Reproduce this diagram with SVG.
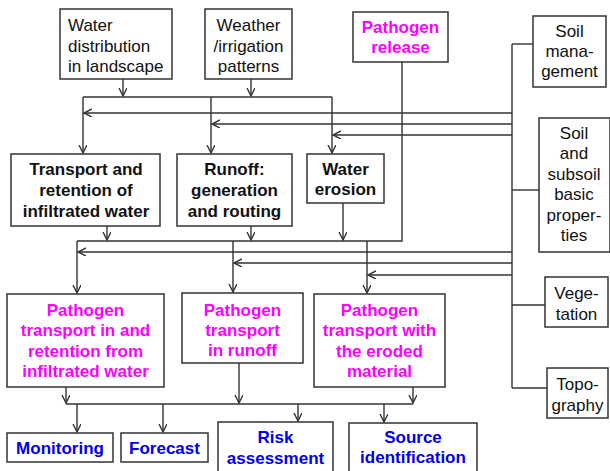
<svg xmlns="http://www.w3.org/2000/svg" width="610" height="471" viewBox="0 0 610 471">
<style>
rect{fill:#fff;stroke:#333;stroke-width:1.5}
text{font-family:"Liberation Sans",Arial,sans-serif;font-size:17px;text-anchor:middle;fill:#111}
.b{font-weight:bold}
.m{fill:#ff00ff;font-weight:bold}
.u{fill:#0000ee;font-weight:bold}
.l{text-anchor:start}
#connectors path{fill:none;stroke:#333;stroke-width:1.4}
#connectors .a{marker-end:url(#arr)}
</style>
<defs>
<marker id="arr" markerUnits="userSpaceOnUse" markerWidth="10" markerHeight="10" refX="8" refY="4" orient="auto" viewBox="0 0 10 10">
<path d="M0,0 L8,4 L0,8" fill="none" stroke="#333" stroke-width="1.4"/>
</marker>
</defs>
<g id="connectors">
<path class="a" d="M123,79 V96"/>
<path class="a" d="M251,79 V96"/>
<path d="M83,97 H332"/>
<path class="a" d="M83,97 V153"/>
<path class="a" d="M211,97 V153"/>
<path class="a" d="M332,97 V153"/>
<path class="a" d="M512,113 H84"/>
<path class="a" d="M512,124 H212"/>
<path class="a" d="M512,135 H333"/>
<path d="M512,44 V388"/>
<path d="M512,44 H533"/>
<path d="M512,190 H539"/>
<path d="M512,305 H545"/>
<path d="M512,388 H547"/>
<path d="M402,62 V241 H77"/>
<path class="a" d="M107,226 V240"/>
<path class="a" d="M251,226 V240"/>
<path class="a" d="M343,203 V240"/>
<path class="a" d="M77,241 V293"/>
<path class="a" d="M233,241 V292"/>
<path class="a" d="M367,241 V293"/>
<path class="a" d="M512,252 H78"/>
<path class="a" d="M512,263 H234"/>
<path class="a" d="M512,275 H368"/>
<path class="a" d="M66,387 V403"/>
<path class="a" d="M239,363 V403"/>
<path class="a" d="M413,387 V403"/>
<path d="M66,404 H413"/>
<path class="a" d="M77,404 V432"/>
<path class="a" d="M163,404 V432"/>
<path class="a" d="M298,404 V421"/>
<path class="a" d="M384,404 V422"/>
</g>
<g id="water-distribution">
<rect x="60" y="9" width="112" height="70"/>
<text class="l" x="68" y="31">Water</text>
<text class="l" x="68" y="52">distribution</text>
<text class="l" x="68" y="72">in landscape</text>
</g>
<g id="weather">
<rect x="205" y="9" width="87" height="70"/>
<text x="248.5" y="31">Weather</text>
<text x="248.5" y="52">/irrigation</text>
<text x="248.5" y="72">patterns</text>
</g>
<g id="pathogen-release">
<rect x="353" y="12" width="95" height="50"/>
<text class="m" x="400.5" y="33">Pathogen</text>
<text class="m" x="400.5" y="53">release</text>
</g>
<g id="soil-management">
<rect x="533" y="16" width="73" height="71"/>
<text x="569.5" y="37">Soil</text>
<text x="569.5" y="57">mana-</text>
<text x="569.5" y="77">gement</text>
</g>
<g id="soil-subsoil">
<rect x="539" y="118" width="71" height="134"/>
<text x="574" y="139">Soil</text>
<text x="574" y="159">and</text>
<text x="574" y="180">subsoil</text>
<text x="574" y="200">basic</text>
<text x="574" y="221">proper-</text>
<text x="574" y="241">ties</text>
</g>
<g id="vegetation">
<rect x="545" y="277" width="63" height="50"/>
<text x="576.5" y="299">Vege-</text>
<text x="576.5" y="320">tation</text>
</g>
<g id="topography">
<rect x="547" y="368" width="61" height="50"/>
<text x="577.5" y="390">Topo-</text>
<text x="577.5" y="411">graphy</text>
</g>
<g id="transport-retention">
<rect x="11" y="154" width="149" height="72"/>
<text class="b" x="86" y="175">Transport and</text>
<text class="b" x="86" y="196">retention of</text>
<text class="b" x="86" y="217">infiltrated water</text>
</g>
<g id="runoff">
<rect x="177" y="154" width="115" height="72"/>
<text class="b" x="234.5" y="175">Runoff:</text>
<text class="b" x="234.5" y="196">generation</text>
<text class="b" x="234.5" y="217">and routing</text>
</g>
<g id="water-erosion">
<rect x="307" y="154" width="77" height="49"/>
<text class="b" x="345.5" y="175">Water</text>
<text class="b" x="345.5" y="195">erosion</text>
</g>
<g id="pathogen-infiltrated">
<rect x="7" y="294" width="157" height="93"/>
<text class="m" x="85.5" y="316">Pathogen</text>
<text class="m" x="85.5" y="336">transport in and</text>
<text class="m" x="85.5" y="357">retention from</text>
<text class="m" x="85.5" y="377">infiltrated water</text>
</g>
<g id="pathogen-runoff">
<rect x="182" y="293" width="121" height="70"/>
<text class="m" x="242.5" y="316">Pathogen</text>
<text class="m" x="242.5" y="336">transport</text>
<text class="m" x="242.5" y="356">in runoff</text>
</g>
<g id="pathogen-eroded">
<rect x="314" y="294" width="131" height="93"/>
<text class="m" x="379.5" y="316">Pathogen</text>
<text class="m" x="379.5" y="336">transport with</text>
<text class="m" x="379.5" y="357">the eroded</text>
<text class="m" x="379.5" y="377">material</text>
</g>
<g id="monitoring">
<rect x="7" y="433" width="106" height="29"/>
<text class="u" x="60" y="454">Monitoring</text>
</g>
<g id="forecast">
<rect x="121" y="433" width="87" height="29"/>
<text class="u" x="164.5" y="454">Forecast</text>
</g>
<g id="risk-assessment">
<rect x="218" y="422" width="115" height="52"/>
<text class="u" x="275.5" y="443">Risk</text>
<text class="u" x="275.5" y="464">assessment</text>
</g>
<g id="source-identification">
<rect x="349" y="423" width="128" height="52"/>
<text class="u" x="413" y="443">Source</text>
<text class="u" x="413" y="463">identification</text>
</g>
</svg>
